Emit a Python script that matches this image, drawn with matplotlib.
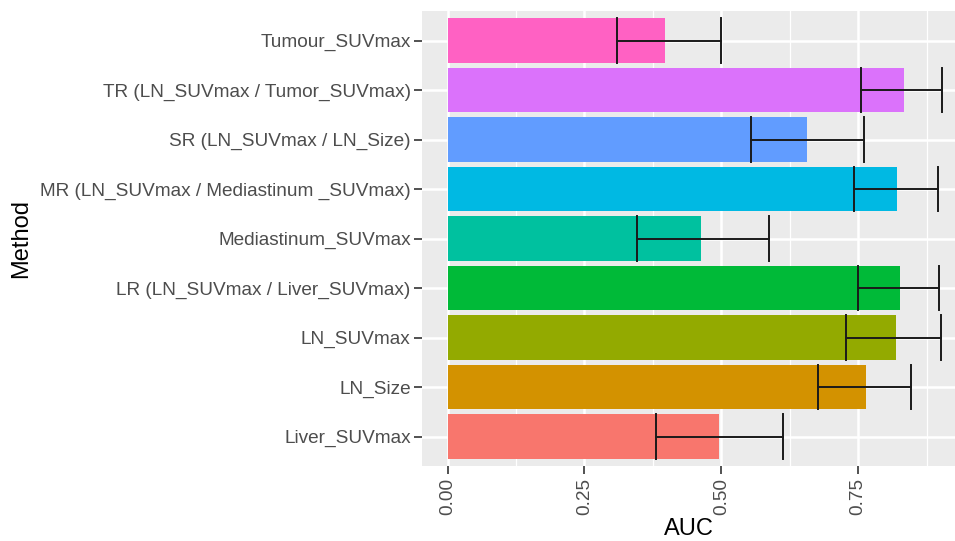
import numpy as np
import matplotlib.pyplot as plt

plt.rcParams['font.family'] = ['Liberation Sans', 'DejaVu Sans']

# data (bottom to top)
methods = ['Liver_SUVmax', 'LN_Size', 'LN_SUVmax', 'LR (LN_SUVmax / Liver_SUVmax)',
           'Mediastinum_SUVmax', 'MR (LN_SUVmax / Mediastinum _SUVmax)',
           'SR (LN_SUVmax / LN_Size)', 'TR (LN_SUVmax / Tumor_SUVmax)', 'Tumour_SUVmax']
auc = [0.495, 0.764, 0.819, 0.827, 0.463, 0.821, 0.657, 0.834, 0.397]
ci_low = [0.381, 0.676, 0.728, 0.749, 0.346, 0.743, 0.555, 0.755, 0.309]
ci_high = [0.612, 0.846, 0.901, 0.898, 0.587, 0.896, 0.760, 0.904, 0.500]
colors = ['#F8766D', '#D39200', '#93AA00', '#00BA38', '#00C19F',
          '#00B9E3', '#619CFF', '#DB72FB', '#FF61C3']

fig = plt.figure(figsize=(9.55, 5.41), dpi=100)
ax = fig.add_axes([0.4424, 0.1380, 0.5576, 0.8417])
ax.set_facecolor('#EBEBEB')

y = np.arange(len(methods))
ax.barh(y, auc, height=0.9, color=colors, zorder=2)

# error bars (lines + caps spanning bar height)
for yi, lo, hi in zip(y, ci_low, ci_high):
    ax.plot([lo, hi], [yi, yi], color='#1a1a1a', lw=1.4, zorder=3)
    ax.plot([lo, lo], [yi - 0.45, yi + 0.45], color='#1a1a1a', lw=1.4, zorder=3)
    ax.plot([hi, hi], [yi - 0.45, yi + 0.45], color='#1a1a1a', lw=1.4, zorder=3)

ax.set_xlim(-0.046, 0.927)
ax.set_ylim(-0.6, 8.6)
ax.set_xticks([0, 0.25, 0.5, 0.75])
ax.set_xticklabels(['0.00', '0.25', '0.50', '0.75'], rotation=90)
ax.set_xticks([0.125, 0.375, 0.625, 0.875], minor=True)
ax.set_yticks(y)
ax.set_yticklabels(methods)

ax.grid(True, which='major', color='white', lw=1.8, zorder=0)
ax.grid(True, which='minor', axis='x', color='white', lw=0.9, zorder=0)
ax.set_axisbelow(True)
for s in ax.spines.values():
    s.set_visible(False)

ax.tick_params(axis='both', which='major', length=5.5, width=1.2, color='#333333',
               labelcolor='#4D4D4D', labelsize=13.7, pad=3)
ax.tick_params(axis='both', which='minor', length=0)

ax.set_xlabel('AUC', fontsize=17, color='black', labelpad=2)
ax.set_ylabel('Method', fontsize=17, color='black', labelpad=6)

fig.savefig('out.png', dpi=100)
